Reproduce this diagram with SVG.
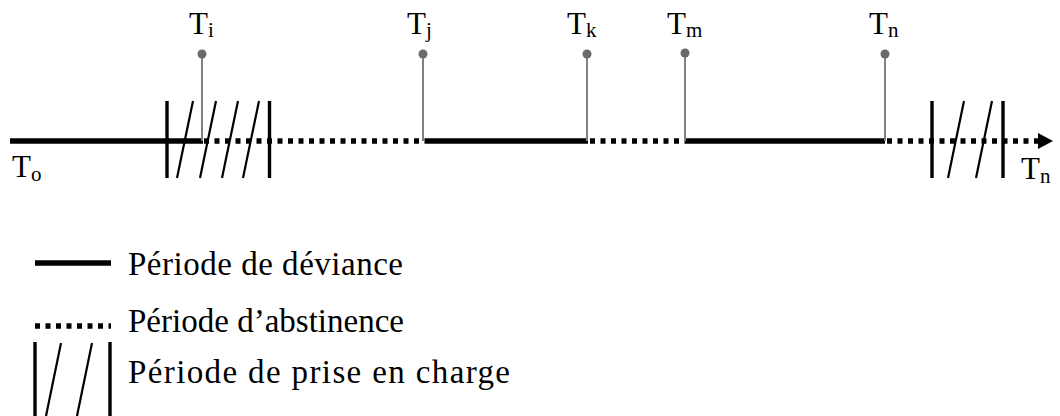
<svg xmlns="http://www.w3.org/2000/svg" width="1060" height="416" viewBox="0 0 1060 416">
  <style>
    .solid { stroke: #000; stroke-width: 5.5; fill: none; }
    .dot { stroke: #000; stroke-width: 5.5; stroke-dasharray: 5 5.5; fill: none; }
    .bar { stroke: #000; stroke-width: 3.4; fill: none; }
    .slash { stroke: #000; stroke-width: 2.2; fill: none; }
    .stem { stroke: #808080; stroke-width: 2; fill: none; }
    .pin { fill: #6a6a6a; }
    .lbl { font-family: "Liberation Serif", "Times New Roman", serif; font-size: 31px; fill: #000; }
    .sub { font-size: 21px; }
    .leg { font-family: "Liberation Serif", "Times New Roman", serif; font-size: 33px; fill: #000; }
  </style>
  <defs>
    <marker id="arrow" markerUnits="userSpaceOnUse" markerWidth="16" markerHeight="16" refX="0" refY="8" orient="auto">
      <path d="M0,0 L15,8 L0,16 Z" fill="#000"/>
    </marker>
  </defs>
  <rect width="1060" height="416" fill="#fff"/>

  <g id="connectors">
    <line class="solid" x1="10" y1="141" x2="203" y2="141"/>
    <line class="dot" x1="204" y1="141" x2="425" y2="141"/>
    <line class="solid" x1="425" y1="141" x2="588" y2="141"/>
    <line class="dot" x1="590" y1="141" x2="685" y2="141"/>
    <line class="solid" x1="685" y1="141" x2="885" y2="141"/>
    <line class="dot" x1="887" y1="141" x2="1038" y2="141" marker-end="url(#arrow)"/>
  </g>

  <g id="care-1">
    <line class="bar" x1="167" y1="101" x2="167" y2="178"/>
    <line class="bar" x1="269.5" y1="101" x2="269.5" y2="178"/>
    <line class="slash" x1="177" y1="178" x2="193" y2="101"/>
    <line class="slash" x1="200" y1="178" x2="216" y2="101"/>
    <line class="slash" x1="222" y1="178" x2="238" y2="101"/>
    <line class="slash" x1="243" y1="178" x2="259" y2="101"/>
  </g>

  <g id="care-2">
    <line class="bar" x1="932" y1="101" x2="932" y2="178"/>
    <line class="bar" x1="1003" y1="101" x2="1003" y2="178"/>
    <line class="slash" x1="948" y1="178" x2="964" y2="101"/>
    <line class="slash" x1="976" y1="178" x2="992" y2="101"/>
  </g>

  <g id="Ti">
    <line class="stem" x1="202" y1="54" x2="202" y2="141"/>
    <circle class="pin" cx="202" cy="54" r="4.5"/>
    <text class="lbl" x="189" y="34">T<tspan class="sub" dy="3">i</tspan></text>
  </g>
  <g id="Tj">
    <line class="stem" x1="423" y1="54" x2="423" y2="141"/>
    <circle class="pin" cx="423" cy="54" r="4.5"/>
    <text class="lbl" x="407" y="34">T<tspan class="sub" dy="3">j</tspan></text>
  </g>
  <g id="Tk">
    <line class="stem" x1="587" y1="54" x2="587" y2="141"/>
    <circle class="pin" cx="587" cy="54" r="4.5"/>
    <text class="lbl" x="567" y="34">T<tspan class="sub" dy="3">k</tspan></text>
  </g>
  <g id="Tm">
    <line class="stem" x1="685" y1="53" x2="685" y2="141"/>
    <circle class="pin" cx="685" cy="53" r="4.5"/>
    <text class="lbl" x="667" y="34">T<tspan class="sub" dy="3">m</tspan></text>
  </g>
  <g id="Tn">
    <line class="stem" x1="885" y1="54" x2="885" y2="141"/>
    <circle class="pin" cx="885" cy="54" r="4.5"/>
    <text class="lbl" x="869" y="34">T<tspan class="sub" dy="3">n</tspan></text>
  </g>
  <g id="To">
    <text class="lbl" x="12" y="177">T<tspan class="sub" dy="4">o</tspan></text>
  </g>
  <g id="Tn-end">
    <text class="lbl" x="1021" y="179">T<tspan class="sub" dy="4">n</tspan></text>
  </g>

  <g id="legend">
    <line class="solid" x1="35" y1="263" x2="111" y2="263"/>
    <text class="leg" x="128" y="275" textLength="275" lengthAdjust="spacing">Période de déviance</text>
    <line class="dot" x1="35" y1="326" x2="111" y2="326" stroke-dasharray="5 6"/>
    <text class="leg" x="128" y="332" textLength="276" lengthAdjust="spacing">Période d’abstinence</text>
    <line class="bar" x1="35" y1="342" x2="35" y2="416"/>
    <line class="bar" x1="110" y1="342" x2="110" y2="416"/>
    <line class="slash" x1="46" y1="416" x2="61" y2="343"/>
    <line class="slash" x1="77" y1="416" x2="92" y2="343"/>
    <text class="leg" x="128" y="383" textLength="382" lengthAdjust="spacing">Période de prise en charge</text>
  </g>
</svg>
